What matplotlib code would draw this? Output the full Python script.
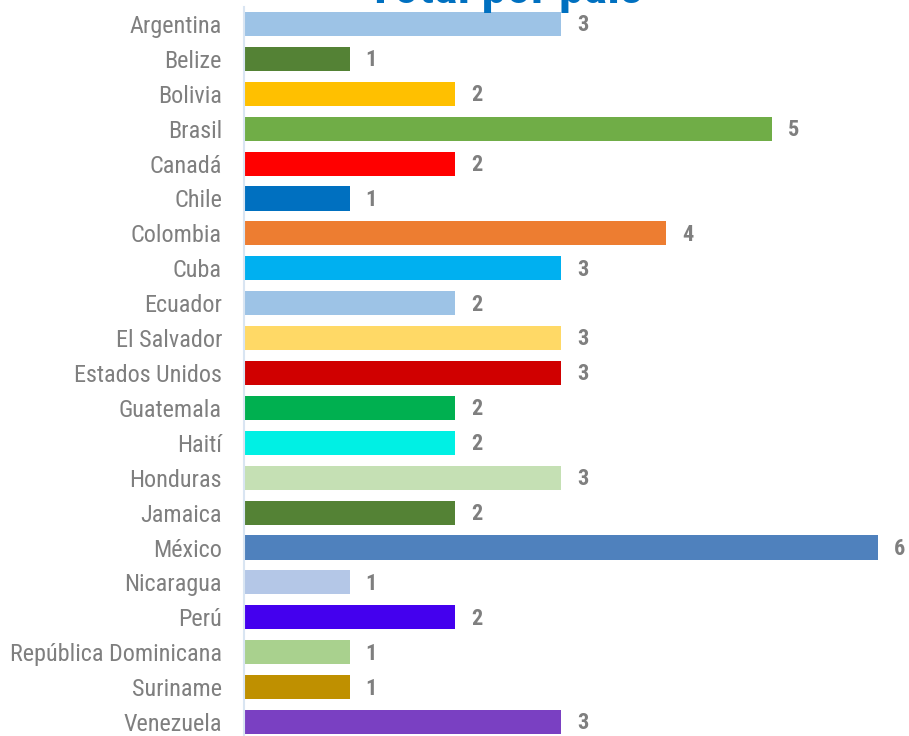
import matplotlib
matplotlib.use("Agg")
import matplotlib.pyplot as plt
import matplotlib.font_manager as fm

countries = ["Argentina", "Belize", "Bolivia", "Brasil", "Canadá", "Chile", "Colombia",
             "Cuba", "Ecuador", "El Salvador", "Estados Unidos", "Guatemala", "Haití",
             "Honduras", "Jamaica", "México", "Nicaragua", "Perú", "República Dominicana",
             "Suriname", "Venezuela"]
values = [3, 1, 2, 5, 2, 1, 4, 3, 2, 3, 3, 2, 2, 3, 2, 6, 1, 2, 1, 1, 3]
colors = ["#9DC3E6", "#548235", "#FFC000", "#70AD47", "#FF0000", "#0070C0", "#ED7D31",
          "#00B0F0", "#9DC3E6", "#FFD966", "#D00000", "#00B050", "#00F0E4",
          "#C5E0B4", "#548235", "#4F81BD", "#B4C7E7", "#4400EE", "#A9D18E",
          "#BF9000", "#7A40C2"]
title = "Total por país"


def pick_font(bold):
    prefs = ["Liberation Sans Narrow", "Roboto Condensed", "DejaVu Sans Condensed",
             "Open Sans Condensed", "Noto Sans Condensed", "Arial Narrow"]
    fonts = fm.fontManager.ttflist
    want_w = 700 if bold else 400
    cands = []
    for f in fonts:
        cond = ("Narrow" in f.name or "Condensed" in f.name or "ondensed" in f.fname
                or f.stretch in ("condensed", "semi-condensed"))
        if not cond or f.style != "normal":
            continue
        try:
            w = int(f.weight)
        except Exception:
            w = 700 if "bold" in str(f.weight).lower() else 400
        rank = prefs.index(f.name) if f.name in prefs else len(prefs)
        cands.append((rank, abs(w - want_w), f.fname))
    if cands:
        cands.sort()
        return fm.FontProperties(fname=cands[0][2])
    return fm.FontProperties(family="DejaVu Sans", weight="bold" if bold else "normal")


fp_reg = pick_font(False)
fp_bold = pick_font(True)

W, H = 909, 736
fig = plt.figure(figsize=(W / 100, H / 100), dpi=100)
renderer = fig.canvas.get_renderer()


def fit_size(text, fp, target_px):
    p = fp.copy()
    p.set_size(10)
    w, h, d = renderer.get_text_width_height_descent(text, p, ismath=False)
    return 10 * target_px / w


lab_size = fit_size("República Dominicana", fp_reg, 211)
val_size = min(lab_size, 16)
title_size = fit_size(title, fp_bold, 276)

ax_left = 244 / W
ax_top, ax_bottom = 6.5, 739.5
ax = fig.add_axes([ax_left, 1 - ax_bottom / H, 1 - ax_left, (ax_bottom - ax_top) / H])

y = list(range(len(countries)))
ax.barh(y, values, color=colors, height=0.69)
ax.set_ylim(len(countries) - 0.5, -0.5)
ax.set_xlim(0, (W - 244) / 105.6)
ax.set_yticks(y)
ax.set_yticklabels(countries, color="#7F7F7F")
lp = fp_reg.copy()
lp.set_size(lab_size)
for t in ax.get_yticklabels():
    t.set_fontproperties(lp)
ax.tick_params(axis='y', length=0, pad=22 * 72 / 100)
ax.set_xticks([])
for s in ["top", "right", "bottom"]:
    ax.spines[s].set_visible(False)
ax.spines["left"].set_color("#D9E5F2")
ax.spines["left"].set_linewidth(1.5)

vp = fp_bold.copy()
vp.set_size(val_size)
for yi, v in zip(y, values):
    ax.annotate(str(v), (v, yi), xytext=(16 * 72 / 100, -1), textcoords="offset points",
                ha="left", va="center", fontproperties=vp, color="#7F7F7F")

tp = fp_bold.copy()
tp.set_size(title_size)
fig.text(505 / W, 1 - 3 / H, title, ha="center", va="baseline", fontproperties=tp,
         color="#0070C0")

fig.savefig("out.png", dpi=100)
